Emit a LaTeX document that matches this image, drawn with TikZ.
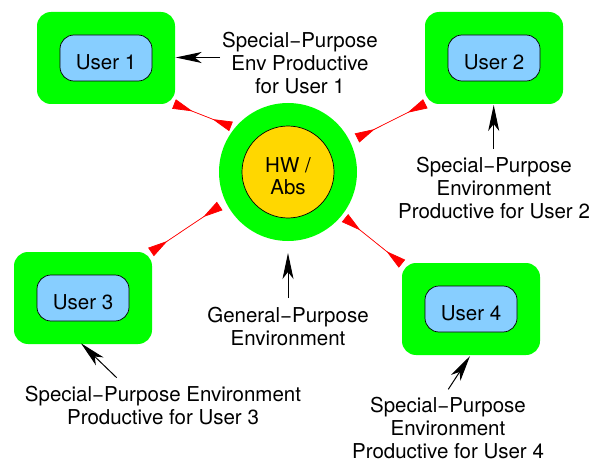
\documentclass[tikz,border=0pt]{standalone}
\usepackage{fontspec}
\setmainfont{TeX Gyre Heros}
\usetikzlibrary{arrows.meta}
\definecolor{boxgreen}{HTML}{00FF00}
\definecolor{boxblue}{HTML}{87CEFF}
\definecolor{hubgold}{HTML}{FFD700}
\tikzset{
  envbox/.style={fill=boxgreen,rounded corners=14pt,minimum width=138pt,minimum height=92pt,inner sep=0pt,outer sep=0pt},
  userbox/.style={draw=black,line width=0.7pt,fill=boxblue,rounded corners=14pt,minimum width=92pt,minimum height=46pt,inner sep=0pt,font=\fontsize{20.5}{23}\selectfont,text height=23.7pt,text depth=0pt},
  lab/.style={align=center,inner sep=0pt,font=\fontsize{20.5}{23}\selectfont},
  redlink/.style={draw=red,fill=red,line width=0.7pt,{Triangle[reversed,length=20pt,width=10pt,fill=red]}-{Triangle[reversed,length=20pt,width=10pt,fill=red]}},
  note/.style={draw=black,line width=1pt,-{Stealth[length=26pt,width=11pt,inset=7pt]}}
}
\begin{document}
\begin{tikzpicture}[x=1pt,y=-1pt]
\useasboundingbox (0,0) rectangle (595,460);
\node[envbox] (e1) at (106,58) {};
\node[envbox] (e2) at (494,58) {};
\node[envbox] (e3) at (83,298) {};
\node[envbox] (e4) at (471,309) {};
\node[userbox] (u1) at (106,58) {User 1};
\node[userbox] (u2) at (494,58) {User 2};
\node[userbox] (u3) at (83,298) {User 3};
\node[userbox] (u4) at (471,309) {User 4};
\node[circle,fill=boxgreen,minimum size=138pt,inner sep=0pt] (hubout) at (288,172) {};
\node[circle,draw=black,line width=0.7pt,fill=hubgold,minimum size=92pt,inner sep=0pt,align=center,font=\fontsize{20.5}{22}\selectfont] (hub) at (288,172) {\rule{0pt}{23pt}HW /\\Abs};
\node[lab] (l1) at (300,63) {Special−Purpose\\Env Productive\\for User 1};
\node[lab] (l2) at (494,188) {Special−Purpose\\Environment\\Productive for User 2};
\node[lab] (l3) at (163,406) {Special−Purpose Environment\\Productive for User 3};
\node[lab] (l4) at (448,428) {Special−Purpose\\Environment\\Productive for User 4};
\node[lab] (l5) at (288,326) {General−Purpose\\Environment};
% connector ends
\coordinate (r1a) at (174,104); \coordinate (r1b) at (231,126.4);
\coordinate (r2a) at (425.3,103.8); \coordinate (r2b) at (357,138);
\coordinate (r3a) at (151,252); \coordinate (r3b) at (219.7,206);
\coordinate (r4a) at (402,263.7); \coordinate (r4b) at (345,218);
\draw[redlink] (r1a) -- (r1b);
\draw[redlink] (r2a) -- (r2b);
\draw[redlink] (r3a) -- (r3b);
\draw[redlink] (r4a) -- (r4b);
\coordinate (n1a) at (220,57.5); \coordinate (n1b) at (175.7,57.5);
\coordinate (n2a) at (493.7,149); \coordinate (n2b) at (493.7,105);
\coordinate (n3a) at (288,298); \coordinate (n3b) at (288,253);
\coordinate (n4a) at (116.7,377.7); \coordinate (n4b) at (81,343.3);
\coordinate (n5a) at (448.3,389.3); \coordinate (n5b) at (470,356);
\draw[note] (n1a) -- (n1b);
\draw[note] (n2a) -- (n2b);
\draw[note] (n3a) -- (n3b);
\draw[note] (n4a) -- (n4b);
\draw[note] (n5a) -- (n5b);
\end{tikzpicture}
\end{document}
